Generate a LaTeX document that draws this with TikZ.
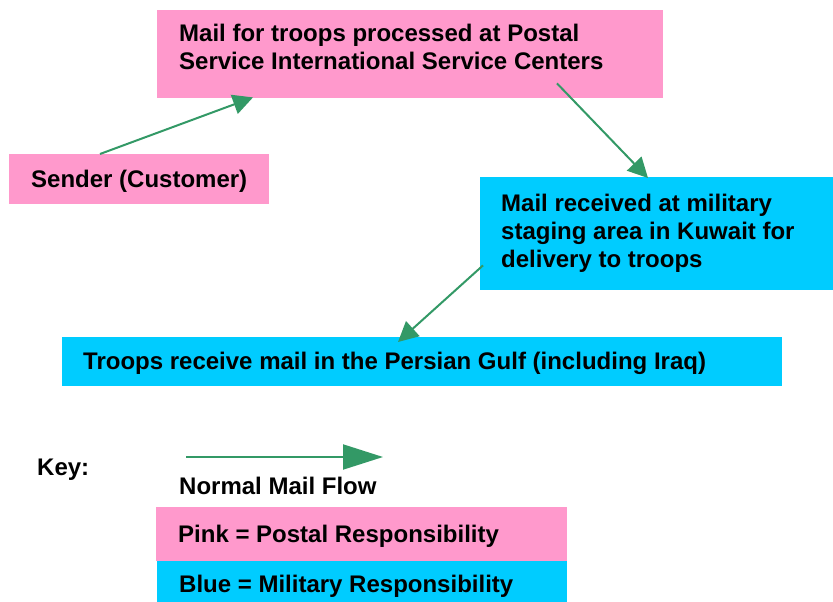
\documentclass[tikz,border=0pt]{standalone}
\usepackage{fontspec}
\setmainfont{Liberation Sans}
\usetikzlibrary{arrows.meta}
\definecolor{pinkbox}{HTML}{FF99CC}
\definecolor{bluebox}{HTML}{00CCFF}
\definecolor{flow}{HTML}{339966}
\begin{document}
\begin{tikzpicture}[x=1pt,y=-1pt,
  box/.style={anchor=north west, inner sep=0pt, draw=none},
  lbl/.style={inner sep=0pt, anchor=base west, align=left,
    font=\fontsize{24}{28}\selectfont\bfseries},
  flowarrow/.style={draw=flow, line width=2pt, -{Triangle[length=20pt,width=20pt]}},
  keyarrow/.style={draw=flow, line width=2pt, -{Triangle[length=40pt,width=25pt]}}]
\useasboundingbox (0,0) rectangle (833,602);
\begin{scope}
\clip (0,0) rectangle (833,602);
\node[box, fill=pinkbox, minimum width=506pt, minimum height=88pt] (isc) at (157,10) {};
\node[lbl] (isctext) at (179,70) {Mail for troops processed at Postal\\Service International Service Centers};
\node[box, fill=pinkbox, minimum width=260pt, minimum height=50pt] (sender) at (9,154) {};
\node[lbl] (sendertext) at (31,187) {Sender (Customer)};
\node[box, fill=bluebox, minimum width=353pt, minimum height=113pt] (kuwait) at (480,177) {};
\node[lbl] (kuwaittext) at (501,267) {Mail received at military\\staging area in Kuwait for\\delivery to troops};
\node[box, fill=bluebox, minimum width=720pt, minimum height=49pt] (troops) at (62,337) {};
\node[lbl] (troopstext) at (83,369) {Troops receive mail in the Persian Gulf (including Iraq)};
\node[lbl] (key) at (37,475) {Key:};
\coordinate (ka) at (186,457);
\coordinate (kb) at (383,457);
\draw[keyarrow] (ka) -- (kb);
\node[lbl] (normal) at (179,494) {Normal Mail Flow};
\node[box, fill=pinkbox, minimum width=411pt, minimum height=54pt] (pinkkey) at (156,507) {};
\node[lbl] (pinktext) at (178,542) {Pink = Postal Responsibility};
\node[box, fill=bluebox, minimum width=410pt, minimum height=46pt] (bluekey) at (157,561) {};
\node[lbl] (bluetext) at (179,592) {Blue = Military Responsibility};
\end{scope}
\draw[flowarrow] ([xshift=91pt]sender.north west) -- ([xshift=96pt,yshift=1pt]isc.south west);
\draw[flowarrow] ([xshift=400pt,yshift=15pt]isc.south west) -- ([xshift=168pt,yshift=-1pt]kuwait.north west);
\draw[flowarrow] ([xshift=3pt,yshift=25pt]kuwait.south west) -- ([xshift=336pt,yshift=-5pt]troops.north west);
\end{tikzpicture}
\end{document}
